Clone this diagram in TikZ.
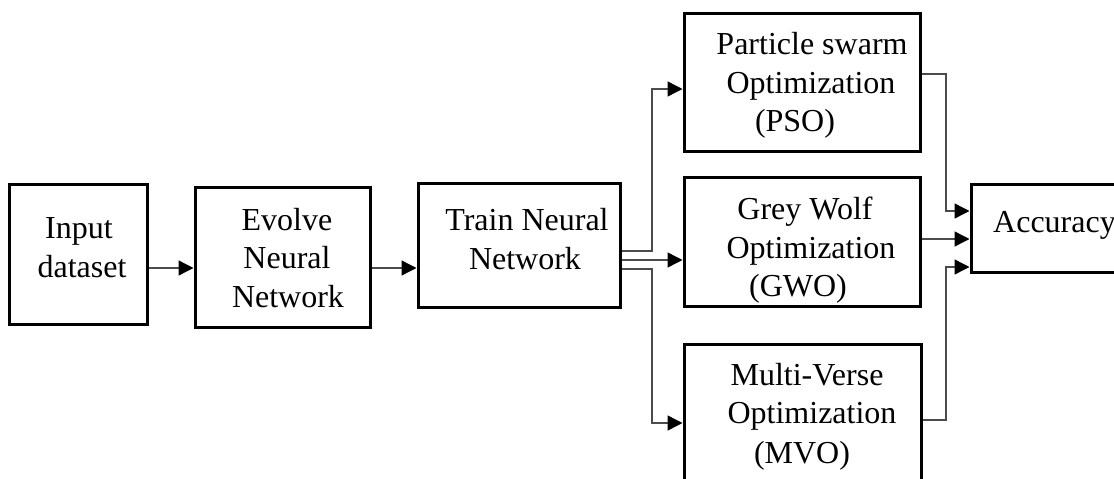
\documentclass[tikz,border=0pt]{standalone}
\usepackage{fontspec}
\setmainfont{Liberation Serif}
\usetikzlibrary{arrows.meta,calc}
\tikzset{
  blk/.style={draw=black, line width=3pt, rectangle, inner sep=0pt, fill=white},
  conn/.style={draw=black!70, line width=1.4pt},
  arr/.style={conn, -{Triangle[length=15pt,width=15pt,fill=black,color=black]}},
  txt/.style={anchor=base, inner sep=0pt, font=\fontsize{32}{38}\selectfont}
}
\begin{document}
\begin{tikzpicture}[x=1pt,y=-1pt]
\clip (0,0) rectangle (1114,479);
\fill[white] (0,0) rectangle (1114,479);
% boxes
\node[blk, minimum width=138pt, minimum height=140pt] (inp) at (78,254) {};
\node[blk, minimum width=175pt, minimum height=140pt] (evo) at (282.5,257) {};
\node[blk, minimum width=202pt, minimum height=124pt] (trn) at (519,245) {};
\node[blk, minimum width=236pt, minimum height=138pt] (pso) at (802,82) {};
\node[blk, minimum width=236pt, minimum height=129pt] (gwo) at (802,241.5) {};
\node[blk, minimum width=237pt, minimum height=138pt] (mvo) at (802.5,413) {};
\node[blk, minimum width=159pt, minimum height=88pt] (acc) at (1050.5,228) {};
% texts
\node[txt] (inpA) at (79,238) {Input};
\node[txt] (inpB) at (82,277) {dataset};
\node[txt] (evoA) at (287,230) {Evolve};
\node[txt] (evoB) at (287,268) {Neural};
\node[txt] (evoC) at (288,307) {Network};
\node[txt] (trnA) at (527,230) {Train Neural};
\node[txt] (trnB) at (525,269) {Network};
\node[txt] (psoA) at (812,54) {Particle swarm};
\node[txt] (psoB) at (811,93) {Optimization};
\node[txt] (psoC) at (795,131) {(PSO)};
\node[txt] (gwoA) at (805,219) {Grey Wolf};
\node[txt] (gwoB) at (811,258) {Optimization};
\node[txt] (gwoC) at (798,296) {(GWO)};
\node[txt] (mvoA) at (807,385) {Multi-Verse};
\node[txt] (mvoB) at (812,423) {Optimization};
\node[txt] (mvoC) at (802,463) {(MVO)};
\node[txt, anchor=base west] (accA) at (993,232) {Accuracy};
% connectors
\coordinate (r1) at (0,268);
\coordinate (sx) at (652,0);
\coordinate (mx) at (946,0);
\draw[arr] (inp.east |- r1) -- (evo.west |- r1);
\draw[arr] (evo.east |- r1) -- (trn.west |- r1);
\draw[arr] ($(trn.east)+(0,6)$) -- ($(sx |- trn.east)+(0,6)$) |- ($(pso.west)+(0,7)$);
\draw[arr] ($(trn.east)+(0,15)$) -- ($(gwo.west)+(0,18.5)$);
\draw[arr] ($(trn.east)+(0,24)$) -- ($(sx |- trn.east)+(0,24)$) |- ($(mvo.west)+(0,10)$);
\draw[arr] ($(pso.east)+(0,-8)$) -- ($(mx |- pso.east)+(0,-8)$) |- ($(acc.west)+(0,-17)$);
\draw[arr] ($(gwo.east)+(0,-2.5)$) -- ($(acc.west)+(0,11)$);
\draw[arr] ($(mvo.east)+(0,7)$) -- ($(mx |- mvo.east)+(0,7)$) |- ($(acc.west)+(0,39)$);
\end{tikzpicture}
\end{document}
